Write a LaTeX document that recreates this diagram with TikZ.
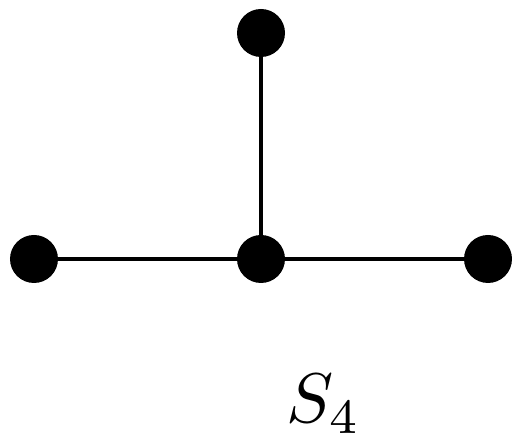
\documentclass[tikz,border=0pt]{standalone}
\begin{document}
\begin{tikzpicture}[
  vert/.style={circle,fill=black,minimum size=0.96cm,inner sep=0pt},
  edge/.style={line width=2pt}
]
\useasboundingbox (0,0) rectangle (10.24,8.76);
\node[vert] (c) at (5.22,3.58) {};
\node[vert] (l) at (0.68,3.58) {};
\node[vert] (r) at (9.76,3.58) {};
\node[vert] (t) at (5.22,8.10) {};
\draw[edge] (l) -- (c);
\draw[edge] (c) -- (r);
\draw[edge] (c) -- (t);
\node[anchor=base,inner sep=0pt,scale=4] (lab) at (6.48,0.30) {$S_4$};
\end{tikzpicture}
\end{document}
